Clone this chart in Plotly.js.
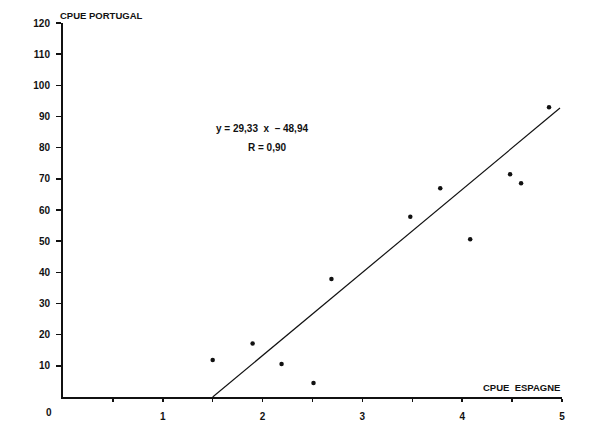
<!DOCTYPE html>
<html>
<head>
<meta charset="utf-8">
<script src="https://cdn.plot.ly/plotly-3.0.1.min.js"></script>
<style>html,body{margin:0;padding:0;background:#fff;}#chart{width:600px;height:434px;}</style>
</head>
<body>
<div id="chart"></div>
<script>
// Data
const cpueEspagne = [1.50, 1.90, 2.19, 2.51, 2.69, 3.48, 3.78, 4.08, 4.48, 4.59, 4.87];
const cpuePortugal = [11.9, 17.2, 10.6, 4.5, 37.9, 57.8, 67.0, 50.6, 71.5, 68.6, 93.0];
// Regression line as drawn (endpoints)
const lineX = [1.50, 4.98];
const lineY = [0.0, 92.7];
// Axis ticks
const xTickVals = [0.5, 1, 1.5, 2, 2.5, 3, 3.5, 4, 4.5, 5];
const xTickText = ["", "1", "", "2", "", "3", "", "4", "", "5"];
const yTickVals = [10, 20, 30, 40, 50, 60, 70, 80, 90, 100, 110, 120];
const yTickText = ["10", "20", "30", "40", "50", "60", "70", "80", "90", "100", "110", "120"];
const equationText = "y = 29,33  x  \u2013 48,94";
const rText = "R = 0,90";
const xTitle = "CPUE  ESPAGNE";
const yTitle = "CPUE PORTUGAL";

const fam = "Liberation Sans, Arial, sans-serif";
const font = {family: fam, size: 9.5, color: "#111", weight: "bold"};

const traces = [
  {x: lineX, y: lineY, mode: "lines", line: {color: "#111", width: 1.2}, hoverinfo: "skip", cliponaxis: false},
  {x: cpueEspagne, y: cpuePortugal, mode: "markers", marker: {color: "#111", size: 4.5}, cliponaxis: false}
];

const layout = {
  width: 600, height: 434,
  margin: {l: 63, r: 38, t: 23, b: 37},
  paper_bgcolor: "#fff", plot_bgcolor: "#fff",
  showlegend: false,
  font: font,
  xaxis: {
    range: [0, 5], showgrid: false, zeroline: false,
    showline: true, linecolor: "#111", linewidth: 2,
    tickmode: "array", tickvals: xTickVals, ticktext: xTickText,
    ticks: "outside", ticklen: 3, tickwidth: 1.5, tickcolor: "#111",
    tickfont: {family: fam, size: 10, color: "#111", weight: "bold"},
    ticklabelstandoff: 6
  },
  yaxis: {
    range: [0, 120], showgrid: false, zeroline: false,
    showline: true, linecolor: "#111", linewidth: 2,
    tickmode: "array", tickvals: yTickVals, ticktext: yTickText,
    ticks: "outside", ticklen: 5, tickwidth: 1.5, tickcolor: "#111",
    tickfont: {family: fam, size: 10, color: "#111", weight: "bold"},
    ticklabelstandoff: 4
  },
  annotations: [
    {xref: "x", yref: "y", x: 1.99, y: 86.3, text: equationText, showarrow: false, font: {family: fam, size: 10, color: "#111", weight: "bold"}},
    {xref: "x", yref: "y", x: 2.05, y: 79.9, text: rText, showarrow: false, font: {family: fam, size: 10, color: "#111", weight: "bold"}},
    {xref: "x", yref: "y", x: 5, y: 0, text: xTitle, showarrow: false, xanchor: "right", yanchor: "bottom", yshift: 2, font: font},
    {xref: "x", yref: "y", x: 0, y: 120, text: yTitle, showarrow: false, xanchor: "left", yanchor: "bottom", xshift: -5, yshift: 0, font: font},
    {xref: "x", yref: "y", x: 0, y: 0, text: "0", showarrow: false, xanchor: "center", yanchor: "top", xshift: -14, yshift: -8, font: {family: fam, size: 10, color: "#111", weight: "bold"}}
  ]
};

Plotly.newPlot("chart", traces, layout, {staticPlot: true, displayModeBar: false});
</script>
</body>
</html>
